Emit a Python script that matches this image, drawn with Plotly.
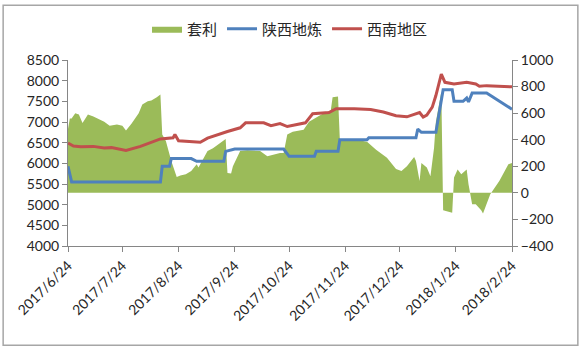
import plotly.graph_objects as go

# ---- data ----
spread_dates = ["2017-06-24","2017-06-25","2017-06-26","2017-06-28","2017-06-30","2017-07-02","2017-07-05",
    "2017-07-08","2017-07-14","2017-07-17","2017-07-21","2017-07-24","2017-07-26","2017-07-29","2017-08-02",
    "2017-08-04","2017-08-07","2017-08-09","2017-08-12","2017-08-14","2017-08-15","2017-08-17","2017-08-20",
    "2017-08-23","2017-08-25","2017-08-28","2017-08-31","2017-09-03","2017-09-04","2017-09-05","2017-09-09",
    "2017-09-12","2017-09-16","2017-09-19","2017-09-20","2017-09-22","2017-09-23","2017-09-27","2017-10-01",
    "2017-10-08","2017-10-12","2017-10-15","2017-10-19","2017-10-21","2017-10-23","2017-10-26","2017-11-01",
    "2017-11-04","2017-11-08","2017-11-12","2017-11-16","2017-11-17","2017-11-20","2017-11-21","2017-11-30",
    "2017-12-06","2017-12-11","2017-12-17","2017-12-22","2017-12-25","2017-12-28","2018-01-01","2018-01-02",
    "2018-01-04","2018-01-05","2018-01-08","2018-01-10","2018-01-12","2018-01-13","2018-01-16","2018-01-17",
    "2018-01-22","2018-01-23","2018-01-25","2018-01-27","2018-01-30","2018-01-31","2018-02-02","2018-02-04",
    "2018-02-07","2018-02-08","2018-02-12","2018-02-17","2018-02-22","2018-02-24"]
spread_values = [480, 560, 560, 600, 590, 525, 590,
    575, 535, 505, 515, 505, 470, 520, 600,
    665, 690, 695, 720, 740, 440, 390, 240,
    120, 130, 140, 165, 215, 190, 215, 315,
    335, 375, 405, 150, 145, 200, 315, 320,
    315, 275, 285, 300, 300, 440, 460, 475,
    535, 570, 600, 620, 720, 725, 400, 400,
    385, 325, 265, 180, 165, 200, 270, 240,
    90, 225, 190, 125, 340, 535, 760, -130,
    -150, 115, 175, 140, 175, 65, -85, -85,
    -130, -155, -10, 90, 215, 225]

shaanxi_dates = ["2017-06-24","2017-06-26","2017-08-14","2017-08-15","2017-08-19","2017-08-20","2017-08-31",
    "2017-09-03","2017-09-18","2017-09-19","2017-09-24","2017-10-21","2017-10-24","2017-11-07","2017-11-08",
    "2017-11-20","2017-11-21","2017-12-06","2017-12-07","2018-01-02","2018-01-03","2018-01-05","2018-01-13",
    "2018-01-17","2018-01-22","2018-01-23","2018-01-28","2018-01-30","2018-01-31","2018-02-02","2018-02-10",
    "2018-02-24"]
shaanxi_values = [5930, 5550, 5550, 5930, 5930, 6115, 6115,
    6050, 6050, 6290, 6345, 6345, 6170, 6170, 6290,
    6290, 6570, 6570, 6620, 6620, 6830, 6750, 6750,
    7780, 7780, 7500, 7500, 7580, 7485, 7700, 7700,
    7310]

southwest_dates = ["2017-06-24","2017-06-27","2017-07-01","2017-07-08","2017-07-14","2017-07-18","2017-07-26",
    "2017-08-03","2017-08-14","2017-08-21","2017-08-22","2017-08-24","2017-09-05","2017-09-09","2017-09-20",
    "2017-09-27","2017-09-30","2017-10-10","2017-10-14","2017-10-19","2017-10-23","2017-11-02","2017-11-06",
    "2017-11-15","2017-11-19","2017-11-29","2017-12-08","2017-12-15","2017-12-22","2017-12-28","2018-01-04",
    "2018-01-06","2018-01-08","2018-01-11","2018-01-13","2018-01-16","2018-01-18","2018-01-23","2018-01-30",
    "2018-02-04","2018-02-06","2018-02-10","2018-02-24"]
southwest_values = [6490, 6420, 6400, 6410, 6370, 6380, 6310,
    6410, 6590, 6620, 6700, 6545, 6510, 6610, 6770,
    6860, 6980, 6980, 6910, 6960, 6890, 6980, 7200,
    7230, 7320, 7320, 7300, 7240, 7150, 7125, 7230,
    7120, 7165, 7360, 7640, 8160, 7960, 7920, 7960,
    7920, 7865, 7880, 7850]

tick_dates = ["2017-06-24","2017-07-24","2017-08-24","2017-09-24","2017-10-24","2017-11-24",
              "2017-12-24","2018-01-24","2018-02-24"]
tick_labels = ["2017/6/24","2017/7/24","2017/8/24","2017/9/24","2017/10/24","2017/11/24",
               "2017/12/24","2018/1/24","2018/2/24"]

GREEN = "#9BBB59"
BLUE = "#4F81BD"
RED = "#C0504D"
AXIS = "#868686"
TXT = "#262626"
NUMFONT = "Lato, 'Noto Sans CJK SC', sans-serif"

fig = go.Figure()
# area on the (right-side) primary axis so that it is drawn beneath the lines
fig.add_trace(go.Scatter(x=spread_dates, y=spread_values, name="套利", yaxis="y",
                         mode="lines", line=dict(width=0, color=GREEN),
                         fill="tozeroy", fillcolor=GREEN))
fig.add_trace(go.Scatter(x=shaanxi_dates, y=shaanxi_values, name="陕西地炼", yaxis="y2",
                         mode="lines", line=dict(width=3, color=BLUE)))
fig.add_trace(go.Scatter(x=southwest_dates, y=southwest_values, name="西南地区", yaxis="y2",
                         mode="lines", line=dict(width=3, color=RED)))

W, H = 583, 352
L, R, T, B = 67.5, 70.5, 57.5, 106
pw, ph = W - L - R, H - T - B

def px(x):
    return (x - L) / pw

def py(y):
    return (H - B - y) / ph

axis_common = dict(showgrid=False, zeroline=False, showline=True, linecolor=AXIS, linewidth=1,
                   ticks="outside", ticklen=5, tickcolor=AXIS,
                   tickfont=dict(family=NUMFONT, size=14, color=TXT))

fig.update_layout(
    width=W, height=H,
    margin=dict(l=L, r=R, t=T, b=B, pad=0),
    paper_bgcolor="white", plot_bgcolor="white",
    font=dict(family=NUMFONT, size=14, color=TXT),
    showlegend=True,
    legend=dict(orientation="h", x=0.5, xanchor="center", y=py(26), yanchor="middle",
                font=dict(family="'Noto Sans CJK SC', sans-serif", size=15, color=TXT),
                itemwidth=30, tracegroupgap=0, bgcolor="rgba(0,0,0,0)"),
    xaxis=dict(type="date", range=["2017-06-24", "2018-02-24"],
               tickvals=tick_dates, ticktext=tick_labels, tickangle=-45, **axis_common),
    yaxis=dict(range=[-400, 1000], dtick=200, tick0=-400, side="right", **axis_common),
    yaxis2=dict(range=[4000, 8500], dtick=500, tick0=4000, overlaying="y", side="left",
                **axis_common),
    shapes=[dict(type="rect", xref="paper", yref="paper",
                 x0=px(2.5), x1=px(578.5), y0=py(346.5), y1=py(2),
                 line=dict(color="#A6A6A6", width=1.5), fillcolor="rgba(0,0,0,0)", layer="below")],
)

fig.write_html("out.html")
